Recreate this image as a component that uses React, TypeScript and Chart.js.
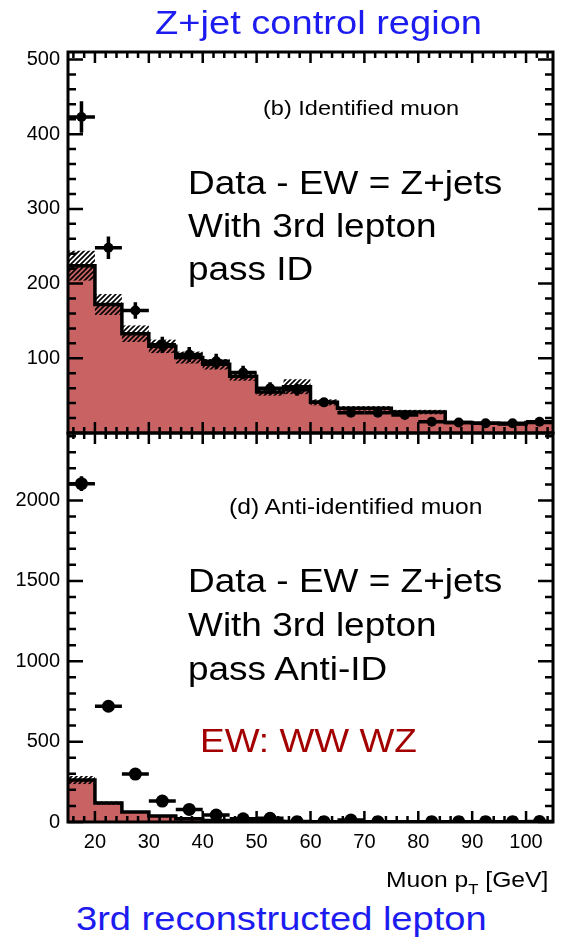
import React, { useEffect, useRef } from "react";
import { Chart, registerables } from "chart.js";

Chart.register(...registerables);

// Muon pT binning [GeV]
const binEdges = [15, 20, 25, 30, 35, 40, 45, 50, 55, 60, 65, 70, 75, 80, 85, 90, 95, 100, 105];
const binCenters = [17.5, 22.5, 27.5, 32.5, 37.5, 42.5, 47.5, 52.5, 57.5, 62.5, 67.5, 72.5, 77.5, 82.5, 87.5, 92.5, 97.5, 102.5];

// (b) Identified muon: Z+jets expectation, its uncertainty, and data - EW
const idZjets = [224, 172, 133, 116, 101, 92, 76, 55, 62, 41, 33, 33, 28, 28, 14, 13, 12, 14];
const idZjetsErr = [20, 14, 11, 9, 8, 7, 6, 5, 10, 4, 3, 3, 3, 3, 2, 2, 2, 2];
const idData = [423, 248, 164, 118, 105, 96, 81, 60, 58, 41, 27, 27, 24, 15, 14, 13, 13, 15];
const idDataErr = [21, 15, 11, 11, 10, 10, 9, 8, 8, 6, 5, 5, 5, 4, 4, 4, 4, 4];

// (d) Anti-identified muon
const antiZjets = [261, 118, 62, 37, 20, 10, 6, 4, 3, 2, 2, 2, 2, 1, 1, 1, 1, 1];
const antiZjetsErr = [25, 10, 6, 4, 3, 2, 2, 1, 1, 1, 1, 1, 1, 1, 1, 1, 1, 1];
const antiData: (number | null)[] = [2105, 720, 298, 130, 78, 43, 20, 23, 2, 2, 12, 2, null, 2, 2, 2, 2, 3];
const antiDataErr = [46, 27, 17, 11, 9, 7, 4, 5, 1, 1, 3, 1, 0, 1, 1, 1, 1, 2];

// Axis labels
const xTickLabels = [20, 30, 40, 50, 60, 70, 80, 90, 100];
const idYTickLabels = [100, 200, 300, 400, 500];
const antiYTickLabels = [0, 500, 1000, 1500, 2000];

const FILL_RED = "#c96262";
const FONT = "'Liberation Sans', Arial, Helvetica, sans-serif";

type Panel = {
  hist: number[];
  histErr: number[];
  data: (number | null)[];
  dataErr: number[];
  yMax: number;
  yTicks: number[];
  yMinor: number;
  markerRadius: number;
  showX: boolean;
  padding: { top: number; right: number; bottom: number; left: number };
};

function hatchPattern(ctx: CanvasRenderingContext2D) {
  const s = 5;
  const tile = document.createElement("canvas");
  tile.width = s;
  tile.height = s;
  const t = tile.getContext("2d")!;
  t.strokeStyle = "#000";
  t.lineWidth = 1.7;
  t.beginPath();
  t.moveTo(0, s);
  t.lineTo(s, 0);
  t.moveTo(-1, 1);
  t.lineTo(1, -1);
  t.moveTo(s - 1, s + 1);
  t.lineTo(s + 1, s - 1);
  t.stroke();
  return ctx.createPattern(tile, "repeat")!;
}

function buildConfig(p: Panel): any {
  const stepData = binEdges.map((x, i) => ({ x, y: p.hist[Math.min(i, p.hist.length - 1)] }));
  const points = binCenters
    .map((x, i) => ({ x, y: p.data[i] }))
    .filter((d) => d.y !== null);

  const uncertaintyBand = {
    id: "uncertaintyBand",
    afterDatasetDraw(chart: any, args: any) {
      if (args.index !== 0) return;
      const { ctx, chartArea, scales } = chart;
      ctx.save();
      ctx.beginPath();
      ctx.rect(chartArea.left, chartArea.top, chartArea.right - chartArea.left, chartArea.bottom - chartArea.top);
      ctx.clip();
      ctx.fillStyle = hatchPattern(ctx);
      p.hist.forEach((v, i) => {
        const x0 = scales.x.getPixelForValue(binEdges[i]);
        const x1 = scales.x.getPixelForValue(binEdges[i + 1]);
        const y0 = scales.y.getPixelForValue(v + p.histErr[i]);
        const y1 = scales.y.getPixelForValue(Math.max(0, v - p.histErr[i]));
        ctx.fillRect(x0, y0, x1 - x0, y1 - y0);
      });
      ctx.restore();
    },
  };

  const errorBars = {
    id: "errorBars",
    beforeDatasetDraw(chart: any, args: any) {
      if (args.index !== 2) return;
      const { ctx, chartArea, scales } = chart;
      ctx.save();
      ctx.beginPath();
      ctx.rect(chartArea.left, chartArea.top, chartArea.right - chartArea.left, chartArea.bottom - chartArea.top);
      ctx.clip();
      ctx.strokeStyle = "#000";
      ctx.lineWidth = 3.5;
      ctx.lineCap = "butt";
      p.data.forEach((v, i) => {
        if (v === null) return;
        const x0 = scales.x.getPixelForValue(binEdges[i]);
        const x1 = scales.x.getPixelForValue(binEdges[i + 1]);
        const xc = scales.x.getPixelForValue(binCenters[i]);
        const y = scales.y.getPixelForValue(v);
        ctx.beginPath();
        ctx.moveTo(x0, y);
        ctx.lineTo(x1, y);
        ctx.moveTo(xc, scales.y.getPixelForValue(v - p.dataErr[i]));
        ctx.lineTo(xc, scales.y.getPixelForValue(v + p.dataErr[i]));
        ctx.stroke();
      });
      ctx.restore();
    },
  };

  const frameTicks = {
    id: "frameTicks",
    afterDraw(chart: any) {
      const { ctx, chartArea, scales } = chart;
      const { left, right, top, bottom } = chartArea;
      ctx.save();
      ctx.strokeStyle = "#000";
      ctx.lineWidth = 2.5;
      ctx.beginPath();
      for (let v = 16; v <= 104; v += 2) {
        const px = scales.x.getPixelForValue(v);
        const len = v % 10 === 0 ? 11 : 6;
        ctx.moveTo(px, bottom);
        ctx.lineTo(px, bottom - len);
        ctx.moveTo(px, top);
        ctx.lineTo(px, top + len);
      }
      const majorStep = p.yTicks[1] - p.yTicks[0];
      for (let v = 0; v <= p.yMax; v += p.yMinor) {
        const py = scales.y.getPixelForValue(v);
        const len = v % majorStep === 0 ? 15 : 8;
        ctx.moveTo(left, py);
        ctx.lineTo(left + len, py);
        ctx.moveTo(right, py);
        ctx.lineTo(right - len, py);
      }
      ctx.stroke();
      ctx.lineWidth = 3;
      ctx.strokeRect(left, top, right - left, bottom - top);
      ctx.restore();
    },
  };

  return {
    type: "line",
    data: {
      datasets: [
        {
          type: "line",
          data: stepData,
          stepped: "before",
          fill: "origin",
          backgroundColor: FILL_RED,
          borderWidth: 0,
          borderColor: "rgba(0,0,0,0)",
          pointRadius: 0,
          order: 3,
        },
        {
          type: "line",
          data: stepData,
          stepped: "before",
          fill: false,
          borderColor: "#000",
          borderWidth: 3.5,
          pointRadius: 0,
          order: 2,
        },
        {
          type: "scatter",
          data: points,
          pointRadius: p.markerRadius,
          pointBackgroundColor: "#000",
          pointBorderWidth: 0,
          showLine: false,
          order: 1,
        },
      ],
    },
    options: {
      animation: false,
      responsive: false,
      maintainAspectRatio: false,
      events: [],
      layout: { padding: p.padding, autoPadding: false },
      plugins: { legend: { display: false }, tooltip: { enabled: false } },
      scales: {
        x: {
          type: "linear",
          min: 15,
          max: 105,
          display: p.showX,
          grid: { display: false },
          border: { display: false },
          ticks: {
            color: "#000",
            font: { family: FONT, size: 20 },
            padding: 0,
            maxRotation: 0,
            autoSkip: false,
            callback: (v: number) => String(v),
          },
          afterBuildTicks: (s: any) => {
            s.ticks = xTickLabels.map((value) => ({ value }));
          },
          afterFit: (s: any) => {
            s.height = p.showX ? 51 : 0;
          },
        },
        y: {
          type: "linear",
          min: 0,
          max: p.yMax,
          grid: { display: false },
          border: { display: false },
          ticks: {
            color: "#000",
            font: { family: FONT, size: 20 },
            padding: 0,
            callback: (v: number) => String(v),
          },
          afterBuildTicks: (s: any) => {
            s.ticks = p.yTicks.map((value) => ({ value }));
          },
          afterFit: (s: any) => {
            s.width = 68;
          },
        },
      },
    },
    plugins: [uncertaintyBand, errorBars, frameTicks],
  };
}

const identifiedPanel: Panel = {
  hist: idZjets,
  histErr: idZjetsErr,
  data: idData,
  dataErr: idDataErr,
  yMax: 510,
  yTicks: idYTickLabels,
  yMinor: 20,
  markerRadius: 5,
  showX: false,
  padding: { top: 52, right: 8, bottom: 12, left: 0 },
};

const antiPanel: Panel = {
  hist: antiZjets,
  histErr: antiZjetsErr,
  data: antiData,
  dataErr: antiDataErr,
  yMax: 2420,
  yTicks: antiYTickLabels,
  yMinor: 100,
  markerRadius: 6.5,
  showX: true,
  padding: { top: 30, right: 8, bottom: 0, left: 0 },
};

function PanelCanvas({ panel, top, height }: { panel: Panel; top: number; height: number }) {
  const ref = useRef<HTMLCanvasElement>(null);
  useEffect(() => {
    const chart = new Chart(ref.current!, buildConfig(panel));
    return () => chart.destroy();
  }, [panel]);
  return (
    <canvas
      ref={ref}
      width={561}
      height={height}
      style={{ position: "absolute", left: 0, top, width: 561, height }}
    />
  );
}

function Label({
  x,
  cy,
  size,
  color = "#000",
  children,
}: {
  x: number;
  cy: number;
  size: number;
  color?: string;
  children: React.ReactNode;
}) {
  return (
    <div
      style={{
        position: "absolute",
        left: x,
        top: cy - size * 0.49,
        fontFamily: FONT,
        fontSize: size,
        lineHeight: 1,
        color,
        whiteSpace: "nowrap",
        transform: "scaleX(1.12)",
        transformOrigin: "left center",
      }}
    >
      {children}
    </div>
  );
}

export default function App() {
  const blue = "#1c1cf0";
  return (
    <div
      style={{
        position: "absolute",
        left: 0,
        top: 0,
        width: 561,
        height: 941,
        background: "#fff",
        overflow: "hidden",
      }}
    >
      <PanelCanvas panel={identifiedPanel} top={0} height={445} />
      <PanelCanvas panel={antiPanel} top={403} height={470} />

      <Label x={155} cy={22} size={34} color={blue}>Z+jet control region</Label>

      <Label x={263} cy={107} size={21}>(b) Identified muon</Label>
      <Label x={188} cy={182} size={33}>Data - EW = Z+jets</Label>
      <Label x={188} cy={225} size={33}>With 3rd lepton</Label>
      <Label x={188} cy={268} size={33}>pass ID</Label>

      <Label x={229} cy={507} size={22}>(d) Anti-identified muon</Label>
      <Label x={188} cy={580} size={33}>Data - EW = Z+jets</Label>
      <Label x={188} cy={624} size={33}>With 3rd lepton</Label>
      <Label x={188} cy={668} size={33}>pass Anti-ID</Label>
      <Label x={200} cy={740} size={33} color="#a30000">EW: WW WZ</Label>

      <Label x={386} cy={880} size={22}>
        Muon p<sub style={{ fontSize: 15, verticalAlign: "-0.45em", lineHeight: 0 }}>T</sub> [GeV]
      </Label>
      <Label x={76} cy={918} size={34} color={blue}>3rd reconstructed lepton</Label>
    </div>
  );
}
